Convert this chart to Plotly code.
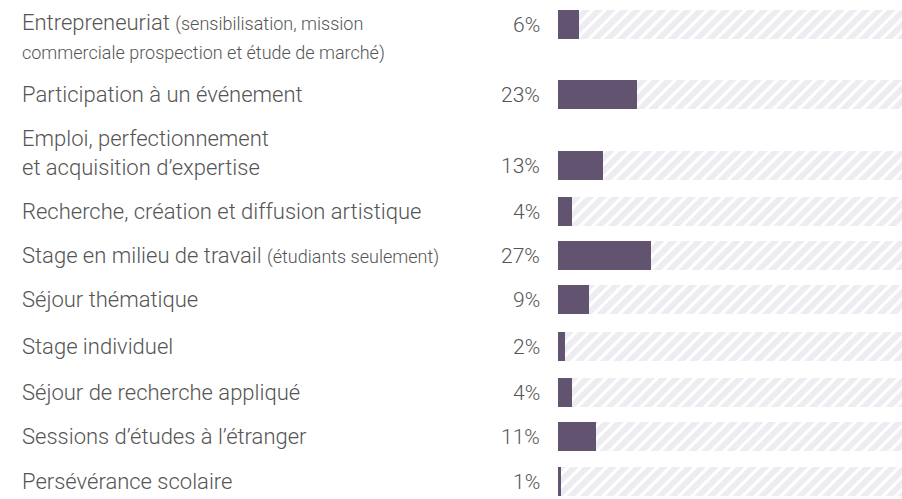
import plotly.graph_objects as go

# Catégories (texte affiché, lignes séparées par <br>)
SMALL = "<span style='font-size:18px'>{}</span>"
categories = [
    "Entrepreneuriat " + SMALL.format("(sensibilisation, mission") + "<br>"
    + SMALL.format("commerciale prospection et étude de marché)"),
    "Participation à un événement",
    "Emploi, perfectionnement<br>et acquisition d’expertise",
    "Recherche, création et diffusion artistique",
    "Stage en milieu de travail " + SMALL.format("(étudiants seulement)"),
    "Séjour thématique",
    "Stage individuel",
    "Séjour de recherche appliqué",
    "Sessions d’études à l’étranger",
    "Persévérance scolaire",
]
values = [6, 23, 13, 4, 27, 9, 2, 4, 11, 1]
value_labels = [f"{v}%" for v in values]

# Mise en page : centre vertical de chaque barre (px) et ligne du libellé alignée sur la barre
row_y = [24.5, 94.5, 165.5, 211.5, 255.5, 299.5, 346.5, 392.5, 436.5, 481.5]
aligned_line = [0, 0, 1, 0, 0, 0, 0, 0, 0, 0]

W, H = 902, 499
LEFT = 558
BAR_H = 29
LINE_H = 25
DARK = "#625371"
HATCH = "#dcd9e4"
TEXT = "#555555"
FONT = "Roboto"

fig = go.Figure()

# Fond hachuré (100 %)
fig.add_trace(go.Bar(
    x=[100] * len(values), y=row_y, orientation="h", width=BAR_H,
    marker=dict(color="white", line=dict(width=0),
                pattern=dict(shape="/", fgcolor=HATCH, bgcolor="white",
                             size=9, solidity=0.65)),
    hoverinfo="skip", showlegend=False,
))
# Valeurs
fig.add_trace(go.Bar(
    x=values, y=row_y, orientation="h", width=BAR_H,
    marker=dict(color=DARK, line=dict(width=0)),
    showlegend=False,
))

annotations = []
for label, pct, y, idx in zip(categories, value_labels, row_y, aligned_line):
    n = label.count("<br>") + 1
    shift = (idx - (n - 1) / 2) * LINE_H
    annotations.append(dict(
        x=0, xref="paper", y=y, yref="y", text=label, showarrow=False,
        xanchor="left", yanchor="middle", align="left", xshift=20 - LEFT,
        yshift=shift, font=dict(family=FONT, size=22, color=TEXT, weight=300),
    ))
    annotations.append(dict(
        x=0, xref="paper", y=y, yref="y", text=pct, showarrow=False,
        xanchor="right", yanchor="middle", xshift=-16,
        font=dict(family=FONT, size=21, color=TEXT, weight=300),
    ))

fig.update_layout(
    width=W, height=H,
    margin=dict(l=LEFT, r=0, t=0, b=0),
    barmode="overlay",
    plot_bgcolor="white", paper_bgcolor="white",
    xaxis=dict(range=[0, 99.7], visible=False, fixedrange=True),
    yaxis=dict(range=[H, 0], visible=False, fixedrange=True),
    annotations=annotations,
    bargap=0,
)

fig.write_html("out.html")
